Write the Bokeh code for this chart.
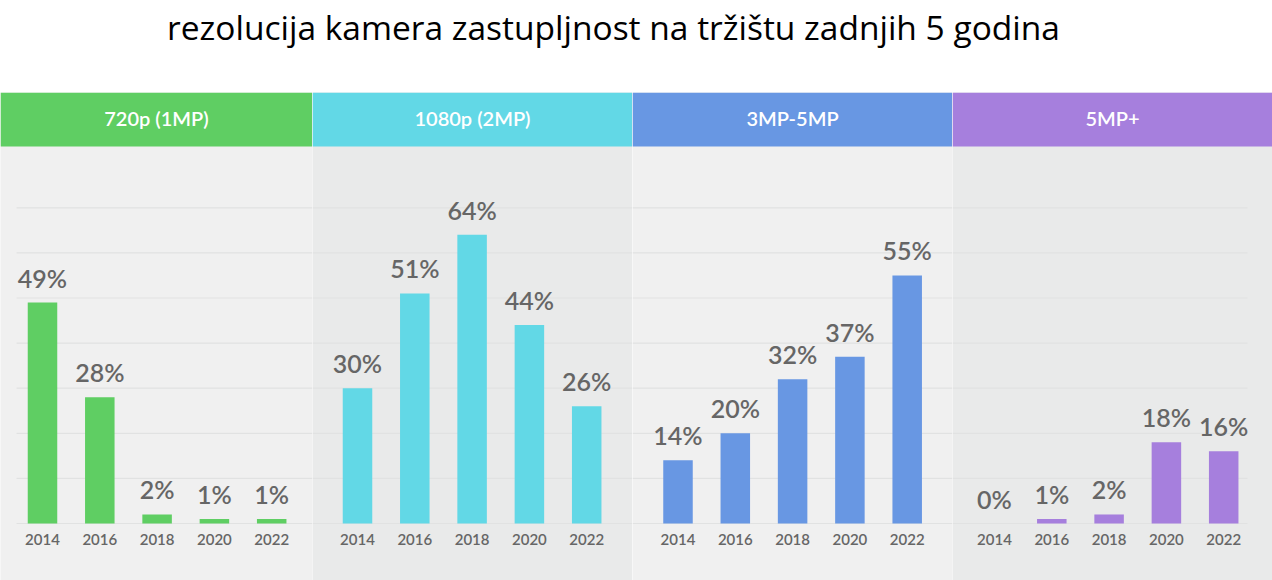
from bokeh.plotting import figure
from bokeh.layouts import column, row
from bokeh.models import Range1d, BoxAnnotation, Label, ColumnDataSource
from bokeh.core.properties import value
from bokeh.embed import file_html
from bokeh.resources import INLINE

# ---- data -------------------------------------------------------------
title_text = "rezolucija kamera zastupljnost na tržištu zadnjih 5 godina"
years = ["2014", "2016", "2018", "2020", "2022"]
categories = ["720p (1MP)", "1080p (2MP)", "3MP-5MP", "5MP+"]
share_720p = [49, 28, 2, 1, 1]
share_1080p = [30, 51, 64, 44, 26]
share_3_5mp = [14, 20, 32, 37, 55]
share_5mp_plus = [0, 1, 2, 18, 16]
grid_levels = [0, 10, 20, 30, 40, 50, 60, 70]

series = [share_720p, share_1080p, share_3_5mp, share_5mp_plus]

# ---- styling ----------------------------------------------------------
header_colors = ["#5fce63", "#62d8e6", "#6897e3", "#a67fdd"]
panel_bgs = ["#f0f0f0", "#e9eaea", "#f0f0f0", "#e9eaea"]
panel_widths = [312, 320, 320, 320]
first_offset = [42, 45, 45.5, 42]      # px from panel edge to first bar centre
grid_inset = [(16, 0), (0, 0), (0, 0), (0, 25)]
SLOT_PX = 57.3                          # px per year slot
PX_PER_PCT = 4.51                       # px per percentage point
PANEL_H = 488
BASELINE_FROM_TOP = 431                 # baseline position inside panel
HEADER_H = 54
LABEL_COLOR = "#666666"
SEMI = value("Lato Semibold")

y_top = BASELINE_FROM_TOP / PX_PER_PCT
y_bottom = -(PANEL_H - BASELINE_FROM_TOP) / PX_PER_PCT
header_bottom = (BASELINE_FROM_TOP - HEADER_H) / PX_PER_PCT

# ---- title ------------------------------------------------------------
title_fig = figure(width=1272, height=92, x_range=Range1d(0, 1272), y_range=Range1d(0, 92),
                   output_backend="svg", toolbar_location=None,
                   x_axis_location=None, y_axis_location=None, min_border=0)
title_fig.grid.visible = False
title_fig.outline_line_color = None
title_fig.background_fill_color = "white"
title_fig.border_fill_color = "white"
title_fig.text(x=[613], y=[66], text=[title_text], text_align="center", text_baseline="middle",
               text_font=value("Open Sans"), text_font_size="33.5px", text_color="black")

# ---- panels -----------------------------------------------------------
panels = []
for k, cat in enumerate(categories):
    w = panel_widths[k]
    x0 = -first_offset[k] / SLOT_PX
    x1 = x0 + w / SLOT_PX
    p = figure(width=w, height=PANEL_H, x_range=Range1d(x0, x1), y_range=Range1d(y_bottom, y_top),
               output_backend="svg", toolbar_location=None,
               x_axis_location=None, y_axis_location=None, min_border=0)
    p.grid.visible = False
    p.outline_line_color = None
    p.background_fill_color = panel_bgs[k]
    p.border_fill_color = panel_bgs[k]

    # horizontal guide lines
    gl, gr = grid_inset[k]
    p.segment(x0=[x0 + gl / SLOT_PX] * len(grid_levels), x1=[x1 - gr / SLOT_PX] * len(grid_levels),
              y0=grid_levels, y1=grid_levels, line_color="#e1e2e2", line_width=1.2)

    vals = series[k]
    src = ColumnDataSource(dict(
        x=list(range(len(years))),
        year=years,
        val=vals,
        lbl=[f"{v}%" for v in vals],
    ))
    p.vbar(x="x", top="val", bottom=0, width=0.515, source=src,
           fill_color=header_colors[k], line_color=None)
    p.text(x="x", y="val", text="lbl", source=src, text_align="center",
           text_baseline="bottom", y_offset=-10,
           text_font=SEMI, text_font_size="25px", text_color=LABEL_COLOR)
    p.text(x="x", y=0, text="year", source=src, text_align="center",
           text_baseline="middle", y_offset=16,
           text_font=SEMI, text_font_size="15px", text_color=LABEL_COLOR)

    # category header band
    p.add_layout(BoxAnnotation(bottom=header_bottom, fill_color=header_colors[k], fill_alpha=1,
                               line_color=None, level="overlay"))
    p.add_layout(Label(x=w / 2, y=PANEL_H - 25, x_units="screen", y_units="screen", text=cat,
                       text_align="center", text_baseline="middle", text_color="white",
                       text_font="Lato Semibold", text_font_size="20px", level="overlay"))
    panels.append(p)

layout = column(title_fig, row(*panels, spacing=0), spacing=0)

with open("out.html", "w") as f:
    f.write(file_html(layout, INLINE))
